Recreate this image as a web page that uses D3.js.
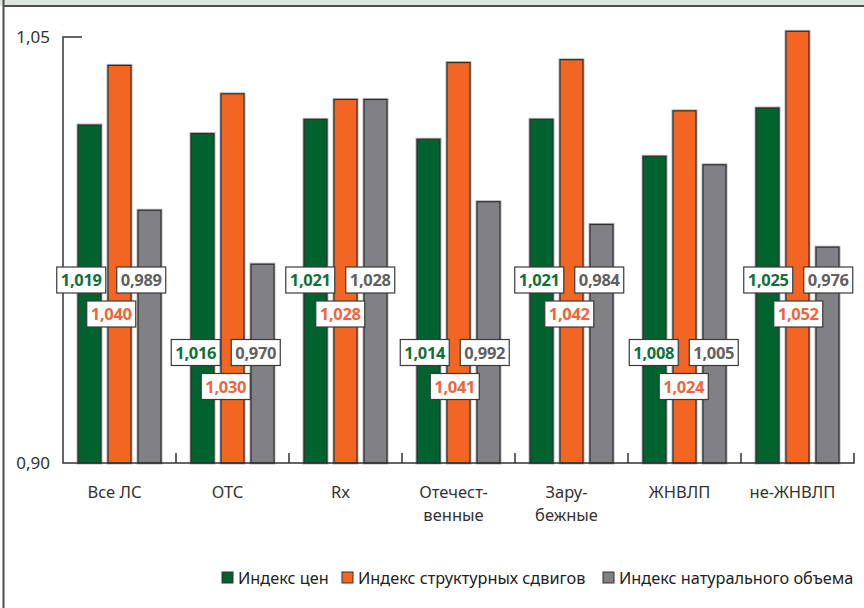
<!DOCTYPE html>
<html>
<head>
<meta charset="utf-8">
<script src="https://cdn.jsdelivr.net/npm/d3@7/dist/d3.min.js"></script>
<style>
  html, body { margin: 0; padding: 0; background: #fff; }
  svg { display: block; font-family: "Noto Sans", "Open Sans", sans-serif; }
</style>
</head>
<body>
<svg id="chart" width="864" height="608"></svg>
<script>
// Categories (two-line names split by "\n")
const categories = ["Все ЛС", "ОТС", "Rx", "Отечест-\nвенные", "Зару-\nбежные", "ЖНВЛП", "не-ЖНВЛП"];
const seriesNames = ["Индекс цен", "Индекс структурных сдвигов", "Индекс натурального объема"];
const priceIndex     = [1.019, 1.016, 1.021, 1.014, 1.021, 1.008, 1.025];
const structureIndex = [1.040, 1.030, 1.028, 1.041, 1.042, 1.024, 1.052];
const volumeIndex    = [0.989, 0.970, 1.028, 0.992, 0.984, 1.005, 0.976];
const yTicks = [0.90, 1.05];

const series = [priceIndex, structureIndex, volumeIndex];
const fills = ["#00632f", "#f26522", "#808085"];
const labelColors = ["#11703a", "#f0643a", "#606062"];

const svg = d3.select("#chart");
const fmt = v => d3.format(".3f")(v).replace(".", ",");
const fmtTick = v => d3.format(".2f")(v).replace(".", ",");

// Frame: header band with rule, left border
svg.append("rect").attr("x", 0).attr("y", 0).attr("width", 864).attr("height", 6).attr("fill", "#dbe6dc");
svg.append("line").attr("x1", 3).attr("x2", 864).attr("y1", 6).attr("y2", 6)
  .attr("stroke", "#4d4d4d").attr("stroke-width", 2);
svg.append("line").attr("x1", 3.5).attr("x2", 3.5).attr("y1", 0).attr("y2", 608)
  .attr("stroke", "#4d4d4d").attr("stroke-width", 2);

const x0 = 63, x1 = 854, yTop = 37, yBase = 463;
const x = d3.scaleBand().domain(d3.range(categories.length)).range([x0, x1]);
const xs = d3.scaleBand().domain(d3.range(series.length)).range([-41.5, 41.5]).paddingInner(7 / 30);
const y = d3.scaleLinear().domain([0.90, 1.05]).range([yBase, yTop]);

// Bars
const g = svg.append("g");
categories.forEach((c, i) => {
  const cx = x(i) + x.bandwidth() / 2;
  series.forEach((s, k) => {
    const bx = cx + xs(k), by = y(s[i]);
    g.append("rect").attr("x", bx).attr("y", by).attr("width", xs.bandwidth())
      .attr("height", yBase - by).attr("fill", "none").attr("stroke", "#b5b5b5").attr("stroke-width", 3);
    g.append("rect").attr("x", bx).attr("y", by).attr("width", xs.bandwidth())
      .attr("height", yBase - by).attr("fill", fills[k]).attr("stroke", "#2e2e2e").attr("stroke-width", 1.2);
  });
});

// Axes
const axisColor = "#333";
svg.append("path")
  .attr("d", `M${x0 + 19},${yTop}H${x0}V${yBase}H${x1}V${yBase - 10}`)
  .attr("fill", "none").attr("stroke", axisColor).attr("stroke-width", 1.5);
d3.range(1, categories.length).forEach(i => {
  svg.append("line").attr("x1", x(i)).attr("x2", x(i)).attr("y1", yBase).attr("y2", yBase - 10)
    .attr("stroke", axisColor).attr("stroke-width", 1.5);
});
yTicks.forEach(t => {
  svg.append("text").attr("x", 50).attr("y", y(t) + 6).attr("text-anchor", "end")
    .attr("font-size", 17).attr("fill", "#333").text(fmtTick(t));
});

// Category labels
categories.forEach((c, i) => {
  const cx = x(i) + x.bandwidth() / 2 - 5;
  const t = svg.append("text").attr("text-anchor", "middle").attr("font-size", 16.5).attr("fill", "#333");
  c.split("\n").forEach((line, j) => {
    t.append("tspan").attr("x", cx).attr("y", 498 + j * 23).text(line);
  });
});

// Value labels in boxes
categories.forEach((c, i) => {
  const cx = x(i) + x.bandwidth() / 2;
  const shift = (i - 5.5) * 1.5;
  const rowY = i % 2 === 0 ? 280 : 352.5;
  series.forEach((s, k) => {
    const lx = cx + xs(k) + xs.bandwidth() / 2 + shift;
    const ly = k === 1 ? rowY + 34 : rowY;
    const grp = svg.append("g");
    const txt = grp.append("text").attr("x", lx).attr("y", ly + 6).attr("text-anchor", "middle")
      .attr("font-size", 16.5).attr("font-weight", "bold").attr("letter-spacing", -0.3)
      .attr("fill", labelColors[k]).text(fmt(s[i]));
    const w = 49;
    grp.insert("rect", "text").attr("x", lx - w / 2).attr("y", ly - 13).attr("width", w).attr("height", 26)
      .attr("fill", "#fff").attr("stroke", "#3a3a3a").attr("stroke-width", 1.2);
  });
});

// Legend
const legend = svg.append("g");
const legendX = [222, 342, 603];
seriesNames.forEach((n, k) => {
  legend.append("rect").attr("x", legendX[k]).attr("y", 572).attr("width", 11).attr("height", 11)
    .attr("fill", fills[k]).attr("stroke", "#333").attr("stroke-width", 1);
  legend.append("text").attr("x", legendX[k] + 16).attr("y", 584).attr("font-size", 16.3)
    .attr("fill", "#222").text(n);
});
</script>
</body>
</html>
